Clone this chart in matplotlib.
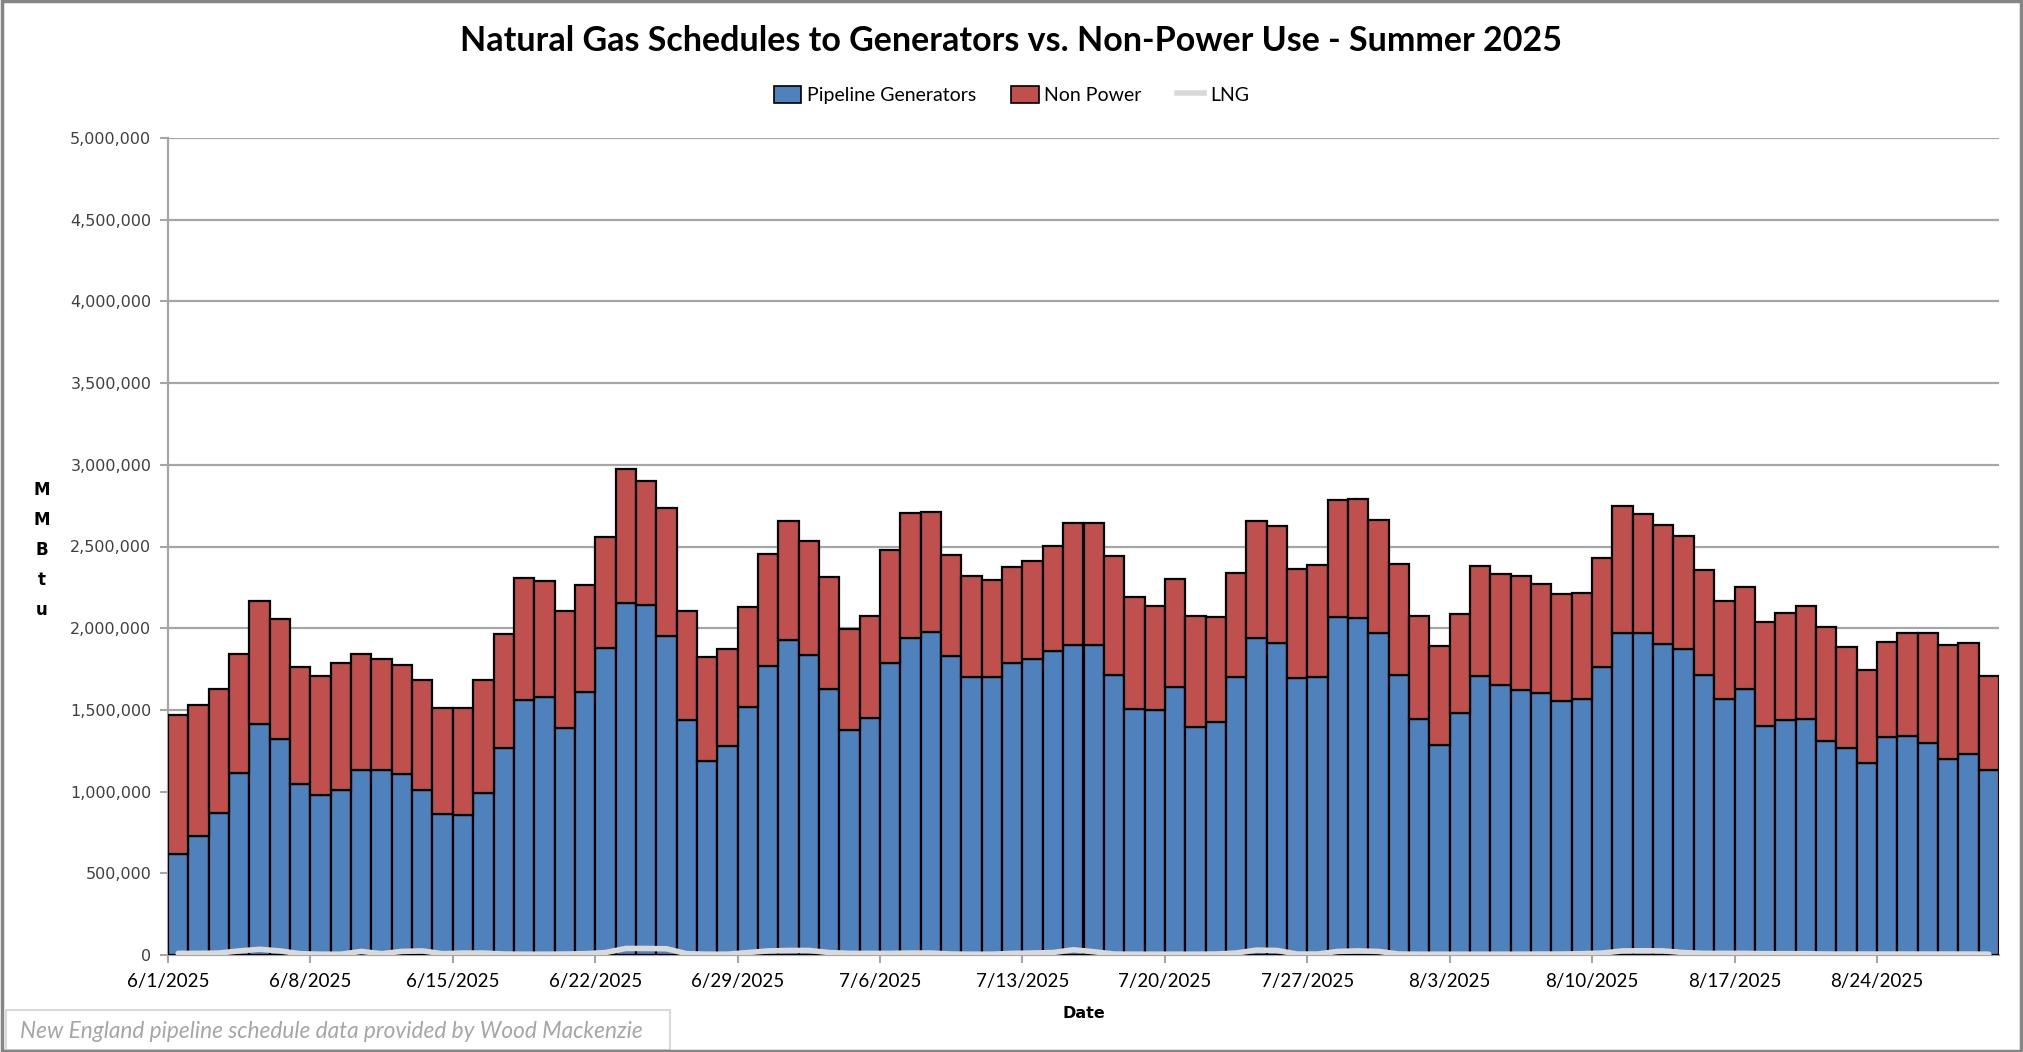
import matplotlib.pyplot as plt
import matplotlib.patches as mpatches
import matplotlib.lines as mlines
import numpy as np
import pandas as pd

# daily values, 6/1/2025 .. 8/29/2025 (MMBtu)
dates = pd.date_range("2025-06-01", "2025-08-29", freq="D")

pipeline_gen = [
    620000, 727000, 868000, 1116000, 1415000, 1324000, 1047000, 981000, 1010000, 1134000,
    1134000, 1109000, 1012000, 864000, 857000, 990000, 1264000, 1558000, 1580000, 1390000,
    1611000, 1880000, 2153000, 2142000, 1952000, 1436000, 1188000, 1281000, 1519000, 1766000,
    1926000, 1837000, 1628000, 1374000, 1450000, 1787000, 1938000, 1977000, 1828000, 1702000,
    1704000, 1787000, 1812000, 1859000, 1895000, 1899000, 1711000, 1504000, 1498000, 1640000,
    1395000, 1428000, 1700000, 1938000, 1909000, 1694000, 1704000, 2066000, 2060000, 1973000,
    1715000, 1446000, 1287000, 1481000, 1709000, 1653000, 1622000, 1601000, 1554000, 1566000,
    1762000, 1969000, 1969000, 1905000, 1874000, 1715000, 1568000, 1628000, 1399000, 1440000,
    1444000, 1312000, 1264000, 1178000, 1337000, 1341000, 1295000, 1202000, 1233000, 1130000,
]

total = [
    1471000, 1529000, 1628000, 1843000, 2165000, 2056000, 1762000, 1709000, 1787000, 1843000,
    1812000, 1777000, 1684000, 1514000, 1514000, 1680000, 1963000, 2308000, 2287000, 2103000,
    2262000, 2556000, 2975000, 2903000, 2737000, 2103000, 1822000, 1870000, 2128000, 2454000,
    2659000, 2531000, 2314000, 1994000, 2072000, 2479000, 2702000, 2711000, 2448000, 2320000,
    2297000, 2372000, 2411000, 2502000, 2644000, 2646000, 2442000, 2190000, 2134000, 2302000,
    2072000, 2068000, 2337000, 2659000, 2624000, 2361000, 2384000, 2787000, 2791000, 2663000,
    2394000, 2074000, 1890000, 2087000, 2380000, 2330000, 2320000, 2268000, 2209000, 2215000,
    2428000, 2746000, 2698000, 2634000, 2566000, 2355000, 2165000, 2250000, 2035000, 2091000,
    2134000, 2008000, 1886000, 1744000, 1915000, 1969000, 1969000, 1895000, 1909000, 1709000,
]
non_power = [t - g for t, g in zip(total, pipeline_gen)]

lng = [
    10000, 10000, 12000, 25000, 35000, 25000, 8000, 5000, 5000, 22000,
    8000, 22000, 25000, 8000, 12000, 12000, 6000, 5000, 5000, 6000,
    8000, 15000, 40000, 40000, 38000, 8000, 5000, 5000, 15000, 25000,
    28000, 28000, 15000, 10000, 10000, 10000, 12000, 12000, 6000, 5000,
    5000, 10000, 12000, 15000, 32000, 20000, 6000, 5000, 5000, 5000,
    5000, 6000, 12000, 30000, 28000, 6000, 6000, 22000, 25000, 22000,
    6000, 5000, 5000, 5000, 5000, 5000, 5000, 6000, 6000, 8000,
    12000, 25000, 26000, 25000, 15000, 10000, 10000, 10000, 8000, 8000,
    8000, 6000, 6000, 6000, 6000, 6000, 6000, 6000, 6000, 5000,
]

blue = "#4F81BD"
red = "#C0504D"
grid = "#A6A6A6"

fig = plt.figure(figsize=(20.23, 10.52), dpi=100)
ax = fig.add_axes([168 / 2023, 1 - 955 / 1052, (1999 - 168) / 2023, (955 - 138) / 1052])

ax.bar(dates, pipeline_gen, width=1.0, align="edge", color=blue,
       edgecolor="black", linewidth=1.6, zorder=3)
ax.bar(dates, non_power, bottom=pipeline_gen, width=1.0, align="edge", color=red,
       edgecolor="black", linewidth=1.6, zorder=3)
centers = dates + pd.Timedelta(hours=12)
ax.plot(centers, lng, color="#D9D9D9", linewidth=4, zorder=4, solid_capstyle="round")

ax.set_ylim(0, 5000000)
ax.set_xlim(dates[0], dates[-1] + pd.Timedelta(days=1))
ax.set_yticks(np.arange(0, 5000001, 500000))
ax.set_yticklabels([f"{v:,}" for v in range(0, 5000001, 500000)],
                   fontsize=11.5, color="#404040", family="DejaVu Sans")
tick_dates = dates[::7]
ax.set_xticks(tick_dates)
ax.set_xticklabels([f"{d.month}/{d.day}/{d.year}" for d in tick_dates],
                   fontsize=13.5, family="Lato", color="black")

ax.yaxis.grid(True, color=grid, linewidth=1.6, zorder=0)
ax.set_axisbelow(True)
for s in ["top", "right"]:
    ax.spines[s].set_visible(False)
for s in ["left", "bottom"]:
    ax.spines[s].set_color(grid)
    ax.spines[s].set_linewidth(1.6)
ax.tick_params(axis="both", color=grid, width=1.5, length=6)
ax.tick_params(axis="x", pad=7)
ax.tick_params(axis="y", pad=6)

fig.text(0.5, 1 - 41 / 1052,
         "Natural Gas Schedules to Generators vs. Non-Power Use - Summer 2025",
         ha="center", va="center", fontsize=24.5, fontweight="bold", family="Lato")

handles = [
    mpatches.Patch(facecolor=blue, edgecolor="black", linewidth=1.2, label="Pipeline Generators"),
    mpatches.Patch(facecolor=red, edgecolor="black", linewidth=1.2, label="Non Power"),
    mlines.Line2D([], [], color="#D9D9D9", linewidth=4, label="LNG"),
]
fig.legend(handles=handles, loc="center", bbox_to_anchor=(0.5, 1 - 95 / 1052), ncol=3,
           frameon=False, prop={"family": "Lato", "size": 14},
           handlelength=1.4, handleheight=1.0, handletextpad=0.3, columnspacing=1.8)

fig.text(42 / 2023, 1 - 550 / 1052, "M\nM\nB\nt\nu", ha="center", va="center",
         fontsize=12, fontweight="bold", family="DejaVu Sans", linespacing=1.85)
fig.text((168 + 1999) / 2 / 2023, 1 - 1014 / 1052, "Date", ha="center", va="center",
         fontsize=11.5, fontweight="bold", family="DejaVu Sans")

# footnote box
fig.patches.append(mpatches.Rectangle((6 / 2023, 1 - 1050 / 1052), 664 / 2023, 40 / 1052,
                                      transform=fig.transFigure, facecolor="white",
                                      edgecolor="#D9D9D9", linewidth=1.5))
fig.text(20 / 2023, 1 - 1031 / 1052,
         "New England pipeline schedule data provided by Wood Mackenzie",
         ha="left", va="center", fontsize=16.3, style="italic", family="Lato", color="#A6A6A6")

# outer chart border
fig.patches.append(mpatches.Rectangle((0.001, 0.001), 0.998, 0.998, transform=fig.transFigure,
                                      facecolor="none", edgecolor="#868686", linewidth=2.5))

fig.savefig("out.png", dpi=100)
